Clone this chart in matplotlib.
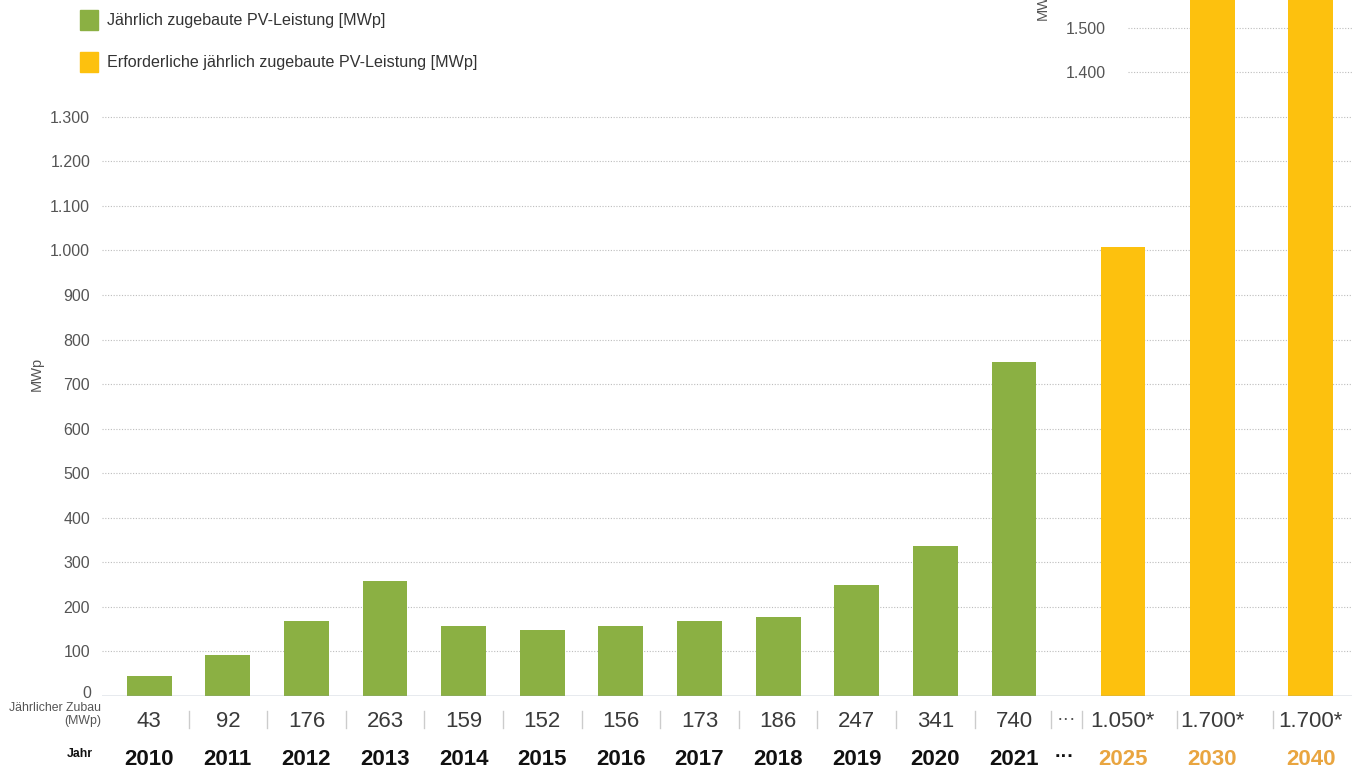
import matplotlib
matplotlib.use("Agg")
import matplotlib.pyplot as plt
from matplotlib import font_manager
from matplotlib.patches import Rectangle
from matplotlib.transforms import blended_transform_factory

# --- Daten ---
jahre = ["2010", "2011", "2012", "2013", "2014", "2015", "2016", "2017",
         "2018", "2019", "2020", "2021", "2025", "2030", "2040"]
zubau_label = ["43", "92", "176", "263", "159", "152", "156", "173", "186",
               "247", "341", "740", "1.050*", "1.700*", "1.700*"]
# Balkenhoehen (weichen leicht von den Beschriftungen ab)
zubau_balken = [45, 91, 168, 259, 158, 147, 158, 168, 177, 248, 337, 749,
                1007, 1700, 1700]
prognose = [False] * 12 + [True] * 3
y_ticks = [0, 100, 200, 300, 400, 500, 600, 700, 800, 900, 1000, 1100, 1200, 1300]
y_ticks_rechts = [1400, 1500]
legende = ["Jährlich zugebaute PV-Leistung [MWp]",
           "Erforderliche jährlich zugebaute PV-Leistung [MWp]"]

GRUEN = "#8bb043"
GELB = "#fdc10e"
ORANGE = "#e9a540"

W, H = 1352, 768

names = {f.name for f in font_manager.fontManager.ttflist}
narrow = "Liberation Sans Narrow" if "Liberation Sans Narrow" in names else None
sans = "Liberation Sans" if "Liberation Sans" in names else "DejaVu Sans"
# ohne Narrow-Schnitt: normale Schrift etwas kleiner
if narrow:
    f_leg, f_tick, f_small = 13, 13, 10
else:
    narrow = sans
    f_leg, f_tick, f_small = 11.6, 11.5, 8.8


def de(v):
    return f"{v:,}".replace(",", ".")


def fx(x):
    return x / W


def fy(y):
    return 1 - y / H


fig = plt.figure(figsize=(W / 100, H / 100), dpi=100)
ax = fig.add_axes([fx(102), fy(696), fx(W) - fx(102), 1 - fy(696)])

# x-Positionen (Abstand nach 2021 groesser)
xpos = list(range(12)) + [12.386, 13.525, 14.777]
farben = [GELB if p else GRUEN for p in prognose]

ax.bar(xpos, zubau_balken, width=0.57, color=farben, zorder=2)
ax.set_xlim(-0.6005, 15.30)
ax.set_ylim(0, 1562)

for v in y_ticks[1:]:
    ax.axhline(v, color="#bdbdbd", lw=0.8, ls=(0, (1, 1.5)), zorder=0)
for v in y_ticks_rechts:
    ax.axhline(v, xmin=(1128 - 102) / (W - 102), color="#bdbdbd", lw=0.8,
               ls=(0, (1, 1.5)), zorder=0)
ax.axhline(0, color="#8797ab", lw=1.0, zorder=3)

for s in ax.spines.values():
    s.set_visible(False)
ax.set_xticks([])
ax.set_yticks(y_ticks)
# die "0" sitzt etwas hoeher und wird einzeln gesetzt
ax.set_yticklabels([""] + [de(v) for v in y_ticks[1:]], fontsize=f_tick,
                   family=narrow, color="#555555")
ax.tick_params(axis="y", length=0, pad=8.5)
fig.text(fx(91), fy(692), de(y_ticks[0]), ha="right", va="center_baseline",
         fontsize=f_tick, family=narrow, color="#555555")

# rechte Teilskala oben
tr_r = blended_transform_factory(fig.transFigure, ax.transData)
for v in y_ticks_rechts:
    ax.text(fx(1106), v, de(v), transform=tr_r, ha="right", va="center_baseline",
            fontsize=f_tick, family=narrow, color="#555555")

fig.text(fx(37), fy(374), "MWp", rotation=90, ha="center", va="center",
         fontsize=10.5, family=narrow, color="#555555")
fig.text(fx(1043), fy(20), "MWp", rotation=90, ha="center", va="bottom",
         fontsize=10.5, family=narrow, color="#555555")

# Legende
for i, (lab, col) in enumerate(zip(legende, [GRUEN, GELB])):
    yc = 20 + i * 42
    fig.add_artist(Rectangle((fx(80), fy(yc + 9.5)), fx(18), 19 / H,
                             transform=fig.transFigure, color=col))
    fig.text(fx(107), fy(yc), lab, ha="left", va="center", fontsize=f_leg,
             family=narrow, color="#333333")

# Tabelle unter der Achse
tr = blended_transform_factory(ax.transData, fig.transFigure)
for x, lab, p, j in zip(xpos, zubau_label, prognose, jahre):
    ax.text(x, fy(727), lab, transform=tr, ha="center", va="baseline",
            fontsize=16, family=sans, color="#3a3a3a")
    ax.text(x, fy(765), j, transform=tr, ha="center", va="baseline",
            fontsize=16, family=sans, weight="bold",
            color=ORANGE if p else "#111111")

trenner = [i + 0.5 for i in range(11)] + [11.47, 11.87, 13.08, 14.29]
for x in trenner:
    ax.plot([x, x], [fy(711), fy(728)], transform=tr, color="#cccccc", lw=1,
            clip_on=False)
ax.text(11.67, fy(724), "···", transform=tr, ha="center", va="baseline",
        fontsize=14, family=sans, color="#555555")
ax.text(11.64, fy(762), "···", transform=tr, ha="center", va="baseline",
        fontsize=14, family=sans, weight="bold", color="#111111")

fig.text(fx(101), fy(711), "Jährlicher Zubau", ha="right", va="baseline",
         fontsize=f_small, family=narrow, color="#555555")
fig.text(fx(101), fy(724), "(MWp)", ha="right", va="baseline",
         fontsize=f_small, family=narrow, color="#555555")
fig.text(fx(93), fy(757), "Jahr", ha="right", va="baseline",
         fontsize=f_small, family=narrow, weight="bold", color="#111111")

fig.savefig("out.png", dpi=100)
